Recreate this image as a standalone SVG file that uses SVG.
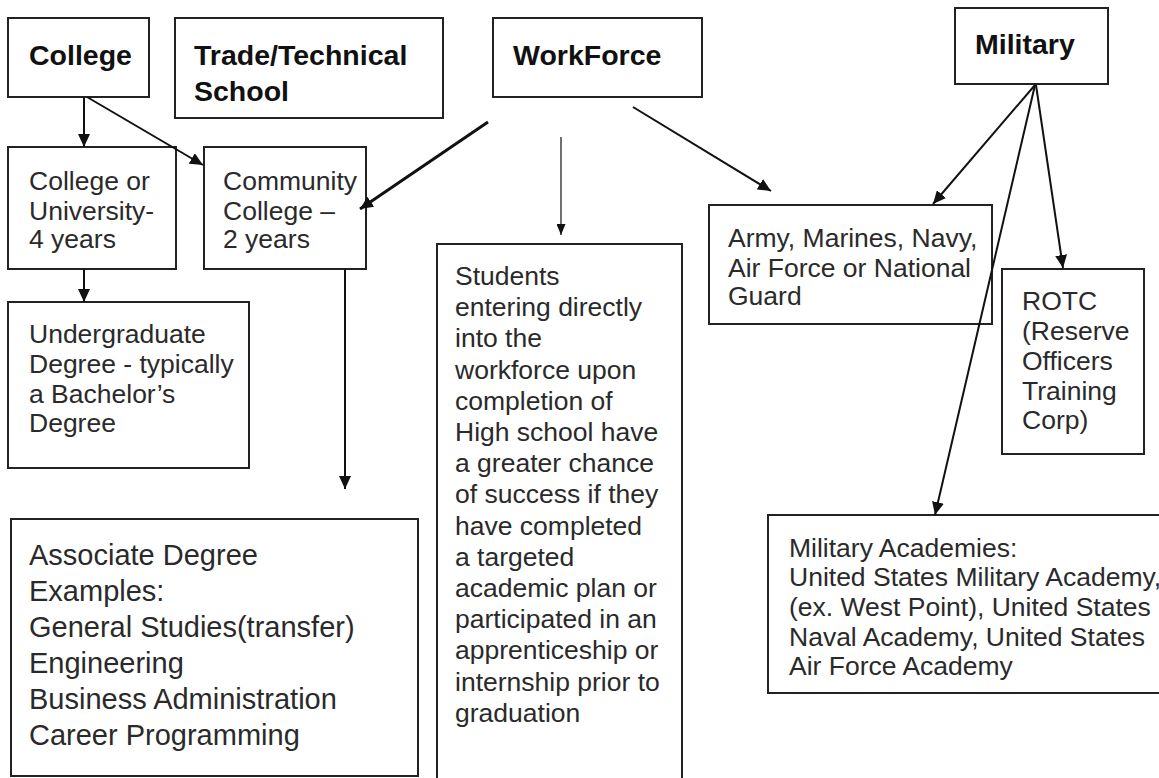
<svg xmlns="http://www.w3.org/2000/svg" width="1159" height="778" viewBox="0 0 1159 778">
<defs>
<style>
.box{fill:#fff;stroke:#222;stroke-width:2}
.t{font-family:"Liberation Sans",Arial,sans-serif;font-size:28.5px;font-weight:bold;fill:#111}
.b{font-family:"Liberation Sans",Arial,sans-serif;font-size:26.5px;fill:#2a2a2a}
.big{font-family:"Liberation Sans",Arial,sans-serif;font-size:29px;fill:#2a2a2a}
.c{stroke:#111;stroke-width:2;fill:none}
</style>
<marker id="ah" markerUnits="userSpaceOnUse" markerWidth="13" markerHeight="12" refX="13" refY="6" orient="auto"><path d="M0,0 L13,6 L0,12 z" fill="#111"/></marker>
<marker id="ahs" markerUnits="userSpaceOnUse" markerWidth="11" markerHeight="9" refX="11" refY="4.5" orient="auto"><path d="M0,0 L11,4.5 L0,9 z" fill="#111"/></marker>
</defs>
<rect width="1159" height="778" fill="#fff"/>
<g id="college"><rect class="box" x="8" y="18" width="141" height="79"/><text class="t" x="29" y="65">College</text></g>
<g id="trade"><rect class="box" x="175" y="18" width="268" height="100"/><text class="t" x="194" y="65">Trade/Technical</text><text class="t" x="194" y="101">School</text></g>
<g id="workforce"><rect class="box" x="493" y="18" width="209" height="79"/><text class="t" x="513" y="65">WorkForce</text></g>
<g id="military"><rect class="box" x="955" y="8" width="153" height="76"/><text class="t" x="975" y="54">Military</text></g>
<g id="university"><rect class="box" x="8" y="147" width="168" height="122"/><text class="b" x="29" y="190">College or</text><text class="b" x="29" y="220">University-</text><text class="b" x="29" y="248">4 years</text></g>
<g id="community"><rect class="box" x="204" y="147" width="162" height="122"/><text class="b" x="223" y="190">Community</text><text class="b" x="223" y="220">College –</text><text class="b" x="223" y="248">2 years</text></g>
<g id="undergraduate"><rect class="box" x="8" y="302" width="241" height="166"/><text class="b" x="29" y="343">Undergraduate</text><text class="b" x="29" y="373">Degree - typically</text><text class="b" x="29" y="403">a Bachelor’s</text><text class="b" x="29" y="432">Degree</text></g>
<g id="associate"><rect class="box" x="11" y="519" width="407" height="257"/><text class="big" x="29" y="565">Associate Degree</text><text class="big" x="29" y="601">Examples:</text><text class="big" x="29" y="637">General Studies(transfer)</text><text class="big" x="29" y="673">Engineering</text><text class="big" x="29" y="709">Business Administration</text><text class="big" x="29" y="745">Career Programming</text></g>
<g id="students"><rect class="box" x="437" y="244" width="245" height="545"/>
<text class="b" x="455" y="285">Students</text>
<text class="b" x="455" y="316.2">entering directly</text>
<text class="b" x="455" y="347.4">into the</text>
<text class="b" x="455" y="378.6">workforce upon</text>
<text class="b" x="455" y="409.8">completion of</text>
<text class="b" x="455" y="441">High school have</text>
<text class="b" x="455" y="472.2">a greater chance</text>
<text class="b" x="455" y="503.4">of success if they</text>
<text class="b" x="455" y="534.6">have completed</text>
<text class="b" x="455" y="565.8">a targeted</text>
<text class="b" x="455" y="597">academic plan or</text>
<text class="b" x="455" y="628.2">participated in an</text>
<text class="b" x="455" y="659.4">apprenticeship or</text>
<text class="b" x="455" y="690.6">internship prior to</text>
<text class="b" x="455" y="721.8">graduation</text></g>
<g id="army"><rect class="box" x="709" y="205" width="283" height="119"/><text class="b" x="728" y="247">Army, Marines, Navy,</text><text class="b" x="728" y="277">Air Force or National</text><text class="b" x="728" y="305">Guard</text></g>
<g id="rotc"><rect class="box" x="1002" y="269" width="142" height="185"/><text class="b" x="1022" y="310">ROTC</text><text class="b" x="1022" y="340">(Reserve</text><text class="b" x="1022" y="370">Officers</text><text class="b" x="1022" y="400">Training</text><text class="b" x="1022" y="429">Corp)</text></g>
<g id="academies"><rect class="box" x="768" y="515" width="400" height="178"/><text class="b" x="789" y="557">Military Academies:</text><text class="b" x="789" y="586">United States Military Academy,</text><text class="b" x="789" y="616">(ex. West Point), United States</text><text class="b" x="789" y="646">Naval Academy, United States</text><text class="b" x="789" y="675">Air Force Academy</text></g>
<g id="connectors">
<line class="c" x1="84" y1="97" x2="84" y2="147" marker-end="url(#ah)"/>
<line class="c" x1="87" y1="97" x2="203" y2="165" marker-end="url(#ah)"/>
<line class="c" x1="84" y1="269" x2="84" y2="302" marker-end="url(#ah)"/>
<line class="c" x1="345" y1="269" x2="345" y2="489" marker-end="url(#ah)"/>
<line class="c" style="stroke-width:3" x1="488" y1="122" x2="360" y2="209" marker-end="url(#ah)"/>
<line class="c" style="stroke-width:1.2" x1="561" y1="137" x2="561" y2="235" marker-end="url(#ahs)"/>
<line class="c" x1="633" y1="107" x2="771" y2="191" marker-end="url(#ah)"/>
<line class="c" x1="1035" y1="85" x2="933" y2="204" marker-end="url(#ah)"/>
<line class="c" x1="1036" y1="85" x2="1063" y2="268" marker-end="url(#ah)"/>
<line class="c" x1="1035" y1="85" x2="935" y2="515" marker-end="url(#ah)"/>
</g>
</svg>
